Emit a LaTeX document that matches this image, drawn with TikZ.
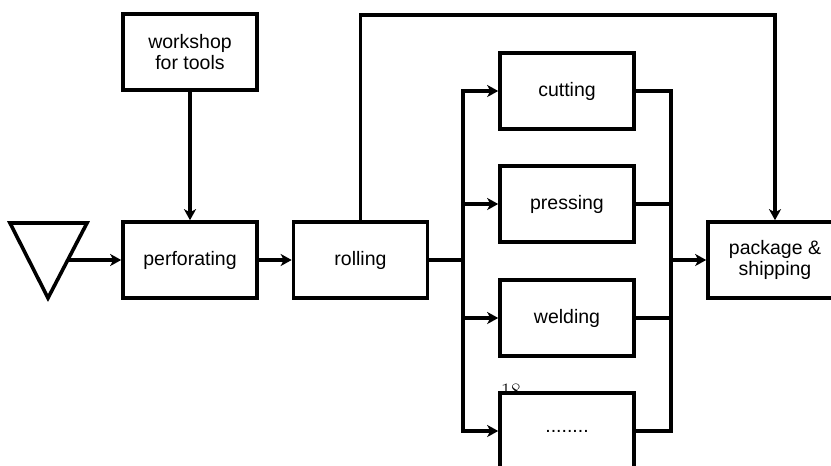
\documentclass[tikz,border=0pt]{standalone}
\usepackage{fontspec}
\newfontfamily\arialfont{Liberation Sans}
\usetikzlibrary{arrows.meta}
\begin{document}
\begin{tikzpicture}[x=1pt,y=-1pt,line width=3.6pt,
  box/.style={draw, fill=white, minimum width=134pt, minimum height=76pt, inner sep=0pt,
    align=center, font=\arialfont\fontsize{19.5}{21.5}\selectfont},
  arr/.style={-{Stealth[length=11pt,width=12pt,inset=3pt]}},
  bus/.style={line cap=rect}]
\useasboundingbox (0,0) rectangle (831,466);
\clip (0,0) rectangle (831,466);
% page number showing through
\node[font=\fontsize{22}{22}\selectfont, anchor=base west, inner sep=0pt] (pg) at (499,398) {18};
% source triangle
\draw[line join=miter] (10,223) -- (87,223) -- (48,298) -- cycle;
\coordinate (src) at (67,260);
% boxes
\node[box] (work) at (190,52) {workshop\\for tools};
\node[box] (perf) at (190,260) {perforating};
\node[box] (roll) at (360.5,260) {rolling};
\node[box] (cut) at (567,91) {cutting};
\node[box] (press) at (567,204) {pressing};
\node[box] (weld) at (567,318) {welding};
\node[box] (dots) at (567,431) {........};
\node[box] (pack) at (775,260) {package \&\\shipping};
% helpers
\coordinate (topR) at (775,15);
\coordinate (busL) at (463,260);
\coordinate (busR) at (671,260);
% connectors
\draw[arr] (src) -- (perf.west);
\draw[arr] (work.south) -- (perf.north);
\draw[arr] (perf.east) -- (roll.west);
\draw[arr] (roll.north) -- (roll.north |- topR) -- (topR) -- (pack.north);
\draw (roll.east) -- (busL);
\draw[bus] (busL |- cut.west) -- (busL |- dots.west);
\draw[bus] (busR |- cut.east) -- (busR |- dots.east);
\foreach \n in {cut,press,weld,dots}{
  \draw[arr] (busL |- \n.west) -- (\n.west);
  \draw (\n.east) -- (busR |- \n.east);
}
\draw[arr] (busR) -- (pack.west);
\end{tikzpicture}
\end{document}
